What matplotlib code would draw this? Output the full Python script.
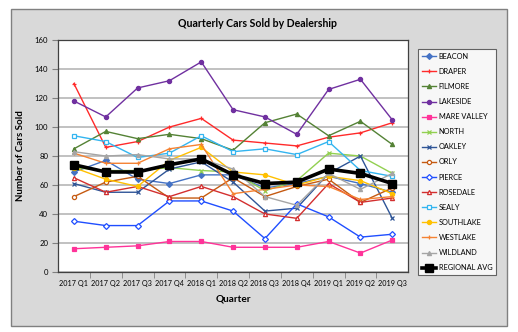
import matplotlib
matplotlib.use("Agg")
import matplotlib.pyplot as plt
from matplotlib.patches import Rectangle
from matplotlib.ticker import FixedLocator

plt.rcParams['font.family'] = ['Lato', 'DejaVu Sans']

quarters = ['2017 Q1', '2017 Q2', '2017 Q3', '2017 Q4', '2018 Q1', '2018 Q2',
            '2018 Q3', '2018 Q4', '2019 Q1', '2019 Q2', '2019 Q3']

beacon = [69, 77, 64, 61, 67, 67, 58, 61, 66, 61, 55]
draper = [130, 86, 90, 100, 106, 91, 89, 87, 93, 96, 103]
filmore = [85, 97, 92, 95, 92, 84, 103, 109, 94, 104, 88]
lakeside = [118, 107, 127, 132, 145, 112, 107, 95, 126, 133, 105]
mare_valley = [16, 17, 18, 21, 21, 17, 17, 17, 21, 13, 22]
north = [72, 70, 70, 72, 70, 69, 56, 63, 82, 80, 68]
oakley = [61, 55, 55, 71, 76, 62, 42, 44, 68, 80, 37]
orly = [52, 62, 66, 51, 51, 65, 52, 59, 64, 48, 58]
pierce = [35, 32, 32, 49, 49, 42, 23, 47, 38, 24, 26]
rosedale = [65, 55, 59, 52, 59, 52, 40, 37, 61, 48, 51]
sealy = [94, 90, 79, 82, 94, 83, 85, 81, 90, 70, 66]
southlake = [72, 64, 59, 77, 86, 69, 67, 60, 66, 63, 54]
westlake = [82, 75, 75, 85, 88, 54, 57, 60, 59, 50, 52]
wildland = [83, 80, 81, 78, 78, 71, 52, 46, 68, 57, 68]
regional_avg = [74, 69, 69, 74, 78, 67, 61, 62, 71, 68, 61]

# name, values, color, marker, filled
series = [
    ("BEACON", beacon, "#4472C4", "D", True),
    ("DRAPER", draper, "#FF2A2A", "+", True),
    ("FILMORE", filmore, "#548235", "^", True),
    ("LAKESIDE", lakeside, "#7030A0", "o", True),
    ("MARE VALLEY", mare_valley, "#FF3399", "s", True),
    ("NORTH", north, "#92D050", "x", True),
    ("OAKLEY", oakley, "#2F5597", "x", True),
    ("ORLY", orly, "#C55A11", "o", False),
    ("PIERCE", pierce, "#1F4EFF", "D", False),
    ("ROSEDALE", rosedale, "#D32F2F", "^", False),
    ("SEALY", sealy, "#33B5F0", "s", False),
    ("SOUTHLAKE", southlake, "#FFC000", "o", True),
    ("WESTLAKE", westlake, "#F58232", "+", True),
    ("WILDLAND", wildland, "#A5A5A5", "^", True),
]

fig = plt.figure(figsize=(5.18, 3.32), dpi=100)
fig.patch.set_facecolor("white")
fig.patches.append(Rectangle((0.021, 0.018), 0.958, 0.955, transform=fig.transFigure,
                             facecolor="#D9D9D9", edgecolor="#808080", lw=1.0, zorder=-10))

ax = fig.add_axes([0.112, 0.181, 0.676, 0.698])
ax.set_facecolor("white")
x = list(range(len(quarters)))

for name, vals, col, mk, filled in series:
    ax.plot(x, vals, color=col, lw=1.0, marker=mk, markersize=3.0,
            markerfacecolor=col if filled else "white", markeredgecolor=col,
            markeredgewidth=0.9, label=name)
ax.plot(x, regional_avg, color="black", lw=2.6, marker="s", markersize=6,
        label="REGIONAL AVG", zorder=5)

ax.set_xlim(-0.5, len(quarters) - 0.5)
ax.set_ylim(0, 160)
ax.set_yticks(range(0, 161, 20))
ax.yaxis.grid(True, color="#B0B0B0", lw=1.1)
ax.set_axisbelow(True)
ax.set_xticks(x)
ax.set_xticklabels(quarters)
ax.xaxis.set_minor_locator(FixedLocator([i + 0.5 for i in range(len(quarters) - 1)]))
ax.tick_params(axis="x", which="major", length=0, labelsize=5.2, pad=6)
ax.tick_params(axis="x", which="minor", length=4, color="#808080")
ax.tick_params(axis="y", length=4, color="#808080", labelsize=5.6, pad=3)
for s in ax.spines.values():
    s.set_color("#404040")
    s.set_linewidth(0.9)

ax.set_xlabel("Quarter", fontsize=7.2, fontweight="bold", labelpad=5)
ax.set_ylabel("Number of Cars Sold", fontsize=7.0, fontweight="bold", labelpad=7)
fig.text(0.498, 0.928, "Quarterly Cars Sold by Dealership", ha="center", va="center",
         fontsize=7.6, fontweight="bold")

leg = fig.legend(loc="upper left", bbox_to_anchor=(0.807, 0.852), fontsize=5.3,
                 frameon=True, fancybox=False, edgecolor="#404040", handlelength=2.0,
                 handletextpad=0.3, borderpad=0.5, labelspacing=1.1, borderaxespad=0)
leg.get_frame().set_linewidth(0.8)

fig.savefig("out.png", dpi=100)
